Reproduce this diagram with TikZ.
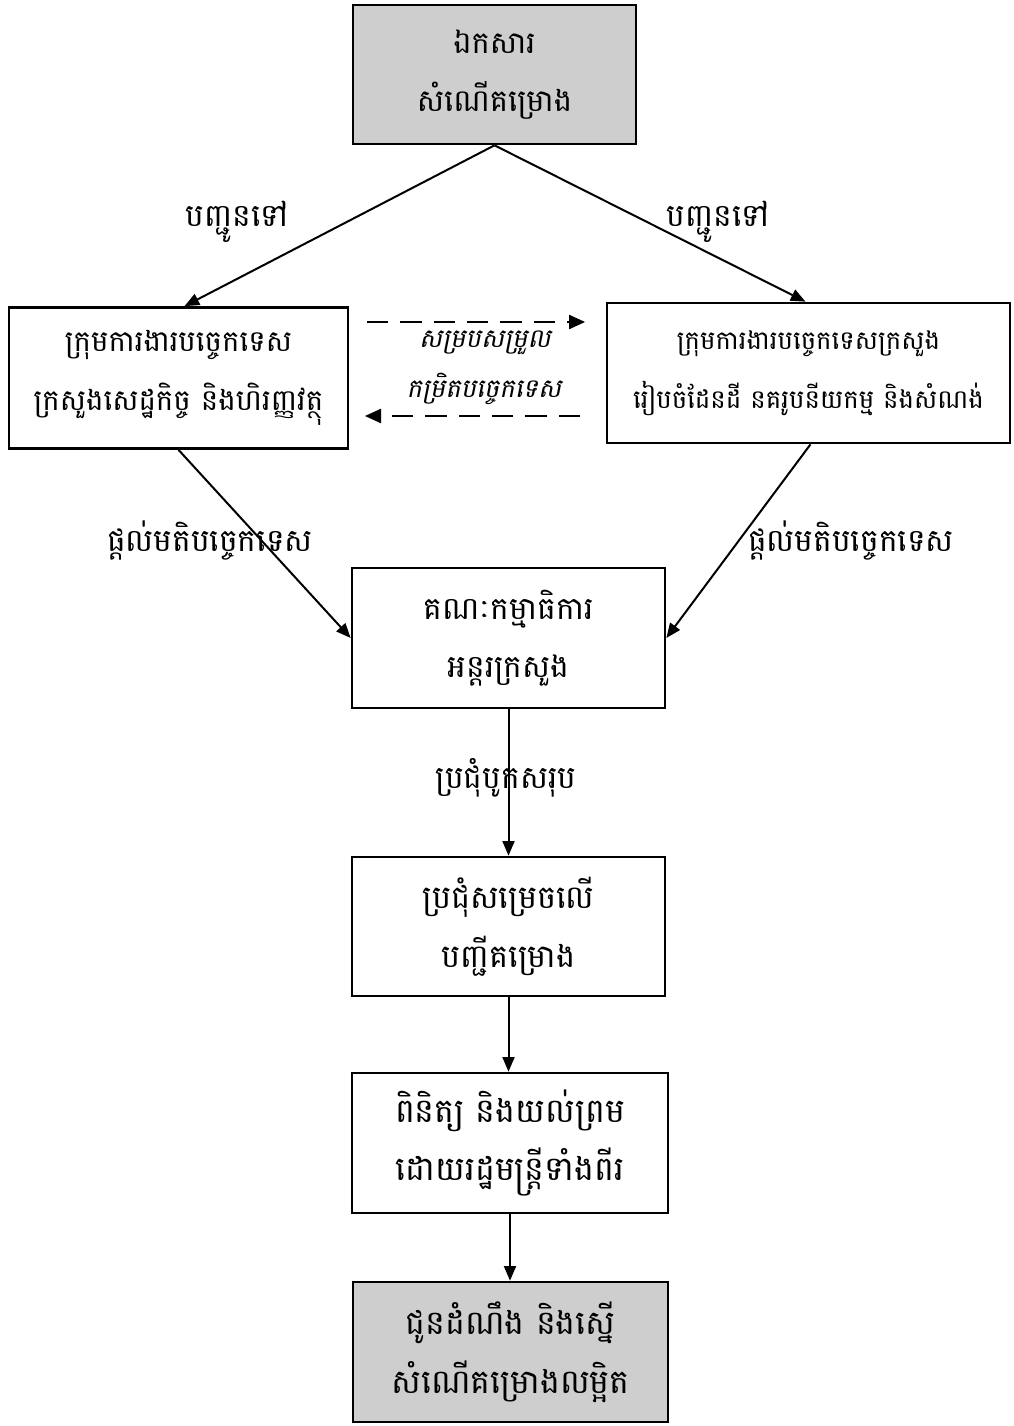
\documentclass[tikz,border=0pt]{standalone}
\usepackage{fontspec}
\usetikzlibrary{arrows.meta,calc}
\newfontfamily\kh[Script=Khmer]{Battambang}
\newfontfamily\khit[Script=Khmer,FakeSlant=0.2]{Battambang}
\definecolor{boxgray}{RGB}{207,206,206}
\newcommand{\ksz}[1]{\kh\fontsize{#1}{44}\selectfont}
\tikzset{
  box/.style={draw=black,line width=2pt,inner sep=0pt,align=center,font=\ksz{23}},
  graybox/.style={box,fill=boxgray},
  conn/.style={line width=1.5pt,-{Triangle[length=11pt,width=9pt]}},
  dconn/.style={line width=2pt,dash pattern=on 16pt off 9pt,-{Triangle[length=12pt,width=11pt,line width=0pt]}},
  lab/.style={font=\kh\fontsize{23.5}{26}\selectfont,inner sep=0pt},
  ilab/.style={font=\khit\fontsize{19.5}{22}\selectfont,inner sep=0pt}
}
\begin{document}
\begin{tikzpicture}[x=0.75pt,y=-0.75pt]
\useasboundingbox (0,0) rectangle (1013,1426);
% boxes
\node[graybox,minimum width=283*0.75pt,minimum height=139*0.75pt,font=\ksz{23}] (top) at (494.5,74.5) {ឯកសារ\\សំណើគម្រោង};
\node[box,minimum width=339*0.75pt,minimum height=141*0.75pt,font=\ksz{22}] (left) at (178.5,378) {ក្រុមការងារបច្ចេកទេស\\ក្រសួងសេដ្ឋកិច្ច និងហិរញ្ញវត្ថុ};
\node[box,minimum width=403*0.75pt,minimum height=140*0.75pt,font=\ksz{19.5}] (right) at (808.5,373) {ក្រុមការងារបច្ចេកទេសក្រសួង\\រៀបចំដែនដី នគរូបនីយកម្ម និងសំណង់};
\node[box,minimum width=313*0.75pt,minimum height=140*0.75pt,font=\ksz{23.5}] (mid) at (508.5,638) {គណៈកម្មាធិការ\\អន្តរក្រសួង};
\node[box,minimum width=313*0.75pt,minimum height=139*0.75pt,font=\ksz{24}] (meet) at (508.5,926.5) {ប្រជុំសម្រេចលើ\\បញ្ជីគម្រោង};
\node[box,minimum width=316*0.75pt,minimum height=140*0.75pt,font=\ksz{25}] (appr) at (510,1143) {ពិនិត្យ និងយល់ព្រម\\ដោយរដ្ឋមន្ត្រីទាំងពីរ};
\node[graybox,minimum width=315*0.75pt,minimum height=140*0.75pt,font=\ksz{25}] (fin) at (510.5,1352) {ជូនដំណឹង និងស្នើ\\សំណើគម្រោងលម្អិត};
% connectors
\draw[conn] (top.south) -- ($(left.north)+(6,0)$);
\draw[conn] (top.south) -- ($(right.north)+(-3,0)$);
\draw[conn] (left.south) -- (mid.west);
\draw[conn] ($(right.south)+(2,0)$) -- (mid.east);
\draw[conn] (mid.south) -- (meet.north);
\draw[conn] (meet.south) -- (meet.south |- appr.north);
\draw[conn] (appr.south) -- (appr.south |- fin.north);
% dashed coordination arrows
\coordinate (d1a) at (367,322);
\coordinate (d1b) at (585,322);
\coordinate (d2a) at (580,416);
\coordinate (d2b) at (365,416);
\draw[dconn] (d1a) -- (d1b);
\draw[dconn] (d2a) -- (d2b);
% labels
\node[lab] (l1) at (237,222) {បញ្ជូនទៅ};
\node[lab] (l2) at (718,222) {បញ្ជូនទៅ};
\node[lab] (l3) at (210,540) {ផ្តល់មតិបច្ចេកទេស};
\node[lab] (l4) at (851,540) {ផ្តល់មតិបច្ចេកទេស};
\node[lab] (l5) at (506,778) {ប្រជុំបូកសរុប};
\node[ilab] (l6) at (485,343) {សម្របសម្រួល};
\node[ilab] (l7) at (484,389) {កម្រិតបច្ចេកទេស};
\end{tikzpicture}
\end{document}
